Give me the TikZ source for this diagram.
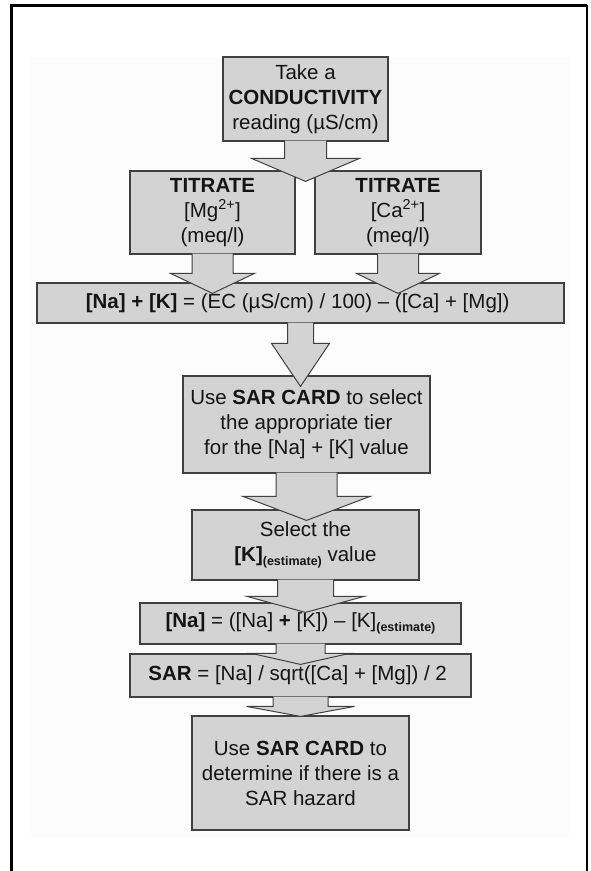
\documentclass[tikz,border=0pt]{standalone}
\usepackage{fontspec}
\setmainfont{Liberation Sans}
\usepackage{xcolor}
\usepackage{tikz}
\usetikzlibrary{calc}

\definecolor{boxgray}{RGB}{211,211,211}
\definecolor{edgegray}{RGB}{64,64,64}
\definecolor{pagegray}{RGB}{252,252,252}
\definecolor{inkgray}{RGB}{20,20,20}

% small bold subscript
\newcommand{\est}{\raisebox{-4pt}{\fontsize{12.5}{12.5}\selectfont\bfseries (estimate)}}

% block arrow: source, target, overlap, shaft half width, head half width, head length
\newcommand{\fatarrow}[6]{%
  \draw[arrowbox] let \p1=(#1.south), \p2=(#2.north) in
    (\x1-#4,\y1+1pt) -- (\x1-#4,\y2-#3+#6) -- (\x1-#5,\y2-#3+#6)
    -- (\x1,\y2-#3) -- (\x1+#5,\y2-#3+#6) -- (\x1+#4,\y2-#3+#6)
    -- (\x1+#4,\y1+1pt);}

\begin{document}
\begin{tikzpicture}[x=1pt, y=-1pt,
            every node/.style={font=\fontsize{20.5}{25}\selectfont, text=inkgray},
            stepbox/.style={draw=edgegray, line width=1.2pt, fill=boxgray,
                inner sep=0pt, align=center},
            arrowbox/.style={draw=edgegray, line width=1pt, fill=boxgray}]
            \useasboundingbox (0,0) rectangle (590,871);

            % frame and backdrop
            \fill[pagegray] (30,57) rectangle (570,837);
            \draw[line width=3pt] (11,871) -- (11,5) -- (587,5);
            \draw[line width=2pt] (587,5) -- (587,871);

            % conductivity
            \node[stepbox, minimum width=165pt, minimum height=84pt] (cond) at (305.5,99) {
                Take a\\
                \textbf{CONDUCTIVITY}\\
                reading (µS/cm)
            };

            % titrations
            \node[stepbox, minimum width=165pt, minimum height=83pt] (mg) at (212.5,212.5) {
                \textbf{TITRATE}\\
                {[Mg\textsuperscript{2+}]}\\
                (meq/l)
            };
            \node[stepbox, minimum width=166pt, minimum height=83pt] (ca) at (398,212.5) {
                \textbf{TITRATE}\\
                {[Ca\textsuperscript{2+}]}\\
                (meq/l)
            };

            % sum of Na and K
            \node[stepbox, minimum width=527pt, minimum height=40pt] (sum) at (300.5,303) {
                \textbf{[Na] + [K]} = (EC (µS/cm) / 100) – ([Ca] + [Mg])
            };

            % card tier
            \node[stepbox, minimum width=247pt, minimum height=97pt] (tier) at (306.5,424.5) {
                Use \textbf{SAR CARD} to select\\
                the appropriate tier\\
                for the [Na] + [K] value
            };

            % K estimate
            \node[stepbox, minimum width=227pt, minimum height=70pt] (kest) at (305.5,545) {
                Select the\\
                \textbf{[K]}\est{} value
            };

            % Na
            \node[stepbox, minimum width=321pt, minimum height=41pt] (na) at (300.5,623.5) {
                \textbf{[Na]} = ([Na] \textbf{+} [K]) – [K]\est
            };

            % SAR
            \node[stepbox, minimum width=341pt, minimum height=43pt] (sar) at (300.5,675.5) {
                \textbf{SAR} = [Na] / sqrt([Ca] + [Mg]) / 2
            };

            % hazard
            \node[stepbox, minimum width=217pt, minimum height=114pt] (hazard) at (300.5,773) {
                Use \textbf{SAR CARD} to\\
                determine if there is a\\
                SAR hazard
            };

            % block arrows
            \fatarrow{cond}{mg}{11pt}{21pt}{54pt}{23pt}
            \fatarrow{mg}{sum}{11pt}{20.5pt}{42pt}{20pt}
            \fatarrow{ca}{sum}{11pt}{20.5pt}{41.5pt}{20pt}
            \fatarrow{sum}{tier}{11pt}{13pt}{29pt}{43pt}
            \fatarrow{tier}{kest}{11pt}{30.5pt}{63.5pt}{24pt}
            \fatarrow{kest}{na}{10pt}{28pt}{58.5pt}{16pt}
            \fatarrow{na}{sar}{11pt}{24.5pt}{49pt}{11pt}
            \fatarrow{sar}{hazard}{1pt}{27.5pt}{54pt}{10pt}
        \end{tikzpicture}
\end{document}
